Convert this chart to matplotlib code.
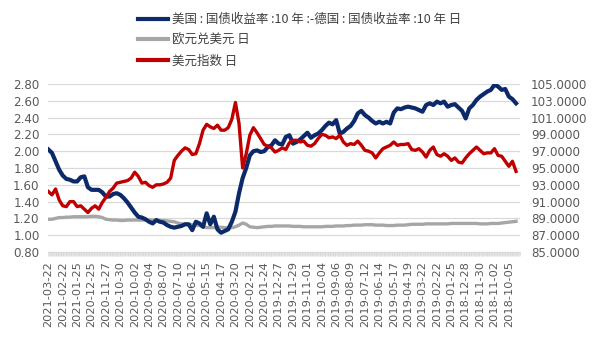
import numpy as np
import matplotlib
matplotlib.use('Agg')
import matplotlib.pyplot as plt
from matplotlib.lines import Line2D
from matplotlib.font_manager import FontProperties
from matplotlib.ticker import FixedLocator, MultipleLocator, FormatStrFormatter

# category axis runs newest -> oldest, one slot per weekday
tick_labels = [
    '2021-03-22', '2021-02-22', '2021-01-25', '2020-12-25', '2020-11-27',
    '2020-10-30', '2020-10-02', '2020-09-04', '2020-08-07', '2020-07-10',
    '2020-06-12', '2020-05-15', '2020-04-17', '2020-03-20', '2020-02-21',
    '2020-01-24', '2019-12-27', '2019-11-29', '2019-11-01', '2019-10-04',
    '2019-09-06', '2019-08-09', '2019-07-12', '2019-06-14', '2019-05-17',
    '2019-04-19', '2019-03-22', '2019-02-22', '2019-01-25', '2018-12-28',
    '2018-11-30', '2018-11-02', '2018-10-05',
]

# weekly readings (every 5th weekday), newest first
spread = [
    2.02, 1.98, 1.88, 1.78, 1.71, 1.67, 1.66, 1.64, 1.64, 1.69,
    1.70, 1.57, 1.54, 1.54, 1.54, 1.51, 1.46, 1.46, 1.49, 1.50,
    1.48, 1.44, 1.39, 1.33, 1.27, 1.22, 1.21, 1.19, 1.16, 1.14,
    1.18, 1.16, 1.15, 1.12, 1.10, 1.09, 1.10, 1.11, 1.13, 1.13,
    1.06, 1.16, 1.14, 1.10, 1.26, 1.13, 1.22, 1.07, 1.03, 1.05,
    1.07, 1.16, 1.28, 1.50, 1.68, 1.80, 1.95, 2.00, 2.01, 1.99,
    2.00, 2.05, 2.07, 2.13, 2.09, 2.08, 2.17, 2.19, 2.09, 2.11,
    2.14, 2.18, 2.22, 2.16, 2.19, 2.21, 2.25, 2.30, 2.34, 2.32,
    2.37, 2.21, 2.23, 2.27, 2.30, 2.36, 2.45, 2.48, 2.43, 2.40,
    2.36, 2.33, 2.35, 2.33, 2.35, 2.33, 2.46, 2.51, 2.50, 2.52,
    2.53, 2.52, 2.51, 2.49, 2.47, 2.55, 2.57, 2.55, 2.59, 2.57,
    2.59, 2.53, 2.55, 2.56, 2.52, 2.48, 2.39, 2.51, 2.55, 2.61,
    2.65, 2.68, 2.71, 2.73, 2.79, 2.77, 2.73, 2.74, 2.65, 2.62,
    2.57,
]

eurusd = [
    1.19, 1.19, 1.20, 1.21, 1.21, 1.215, 1.215, 1.22, 1.22, 1.22,
    1.22, 1.22, 1.225, 1.225, 1.22, 1.21, 1.19, 1.185, 1.18, 1.18,
    1.175, 1.175, 1.18, 1.18, 1.18, 1.18, 1.18, 1.18, 1.18, 1.18,
    1.18, 1.175, 1.175, 1.17, 1.165, 1.16, 1.145, 1.135, 1.13, 1.125,
    1.125, 1.12, 1.115, 1.10, 1.09, 1.09, 1.09, 1.095, 1.095, 1.09,
    1.09, 1.09, 1.10, 1.12, 1.145, 1.13, 1.10, 1.095, 1.09, 1.095,
    1.10, 1.105, 1.105, 1.11, 1.11, 1.11, 1.11, 1.11, 1.105, 1.105,
    1.105, 1.10, 1.10, 1.10, 1.10, 1.10, 1.10, 1.105, 1.105, 1.105,
    1.11, 1.11, 1.11, 1.115, 1.115, 1.12, 1.12, 1.12, 1.125, 1.125,
    1.125, 1.12, 1.12, 1.12, 1.115, 1.115, 1.115, 1.12, 1.12, 1.12,
    1.125, 1.13, 1.13, 1.13, 1.13, 1.135, 1.135, 1.135, 1.135, 1.135,
    1.135, 1.135, 1.14, 1.14, 1.14, 1.14, 1.14, 1.14, 1.14, 1.14,
    1.135, 1.135, 1.135, 1.14, 1.14, 1.14, 1.145, 1.15, 1.155, 1.16,
    1.165,
]

dxy = [
    92.2, 91.8, 92.5, 91.2, 90.5, 90.4, 91.0, 91.0, 90.4, 90.5,
    90.1, 89.7, 90.2, 90.5, 90.1, 90.9, 91.5, 92.2, 92.6, 93.2,
    93.3, 93.4, 93.5, 93.8, 94.5, 94.0, 93.2, 93.3, 92.9, 92.7,
    93.0, 93.0, 93.1, 93.3, 93.8, 95.9, 96.5, 97.0, 97.4, 97.2,
    96.6, 96.7, 97.9, 99.5, 100.2, 99.9, 99.7, 100.1, 99.5, 99.5,
    99.8, 100.8, 102.8, 100.3, 95.0, 96.7, 98.9, 99.8, 99.2, 98.5,
    97.8, 97.6, 97.4, 96.9, 97.1, 97.4, 97.2, 98.0, 98.3, 98.3,
    98.1, 98.2, 97.7, 97.6, 97.9, 98.5, 99.0, 98.9, 98.6, 98.7,
    98.5, 98.9, 98.1, 97.7, 97.9, 97.8, 98.2, 97.7, 97.1, 97.0,
    96.8, 96.2, 96.8, 97.3, 97.5, 97.7, 98.1, 97.7, 97.8, 97.8,
    97.9, 97.2, 97.1, 97.3, 96.9, 96.3, 97.1, 97.5, 96.6, 96.4,
    96.7, 96.4, 95.9, 96.2, 95.7, 95.6, 96.2, 96.7, 97.1, 97.5,
    97.1, 96.7, 96.8, 96.8, 97.3, 96.5, 96.4, 95.8, 95.2, 95.8,
    94.6,
]

series_names = [
    '美国 : 国债收益率 :10 年 :-德国 : 国债收益率 :10 年 日',
    '欧元兑美元 日',
    '美元指数 日',
]
colors = ['#0c2a6a', '#a6a6a6', '#c00000']

STEP = 5          # weekdays between readings
N_CAT = 656       # weekday slots on the axis
LABEL_EVERY = 20

x = np.arange(len(spread)) * STEP

fig = plt.figure(figsize=(6.05, 3.4), dpi=100)
ax = fig.add_axes([48 / 605, 88 / 340, 472 / 605, 168 / 340])
ax2 = ax.twinx()

ax.plot(x, spread, color=colors[0], lw=3.0, zorder=3)
ax.plot(x, eurusd, color=colors[1], lw=2.4, zorder=2)
ax2.plot(x, dxy, color=colors[2], lw=2.4, zorder=3)

ax.set_xlim(-0.5, N_CAT - 0.5)
ax.set_ylim(0.8, 2.8)
ax2.set_ylim(85, 105)

ax.yaxis.set_major_locator(FixedLocator(np.arange(0.8, 2.81, 0.2)))
ax.yaxis.set_major_formatter(FormatStrFormatter('%.2f'))
ax2.yaxis.set_major_locator(FixedLocator(np.arange(85, 105.1, 2)))
ax2.yaxis.set_major_formatter(FormatStrFormatter('%.4f'))

ax.grid(axis='y', color='#d9d9d9', lw=0.9, zorder=0)
ax.set_axisbelow(True)

ax.set_xticks(np.arange(len(tick_labels)) * LABEL_EVERY)
ax.set_xticklabels(tick_labels, rotation=90)
ax.xaxis.set_minor_locator(MultipleLocator(1))

tick_font = dict(labelsize=8.6, labelcolor='#595959')
ax.tick_params(axis='x', which='both', length=3, width=0.45, color='#d4d4d4',
               pad=3.5, labelsize=8.2, labelcolor='#595959')
ax.tick_params(axis='y', length=0, pad=6, **tick_font)
ax2.tick_params(axis='y', length=0, pad=8, **tick_font)

for a in (ax, ax2):
    for side in ('top', 'left', 'right'):
        a.spines[side].set_visible(False)
    a.spines['bottom'].set_color('#d9d9d9')
ax2.spines['bottom'].set_visible(False)

handles = [Line2D([], [], color=c, lw=3.0) for c in colors]
fig.legend(handles, series_names, loc='upper left',
           bbox_to_anchor=(138 / 605, 1 - 13 / 340), frameon=False,
           prop=FontProperties(family=['Noto Sans CJK SC', 'DejaVu Sans'], size=9),
           labelcolor='#404040', handlelength=2.4, handletextpad=0.35,
           labelspacing=0.62, borderpad=0, borderaxespad=0)

fig.savefig('out.png', dpi=100)
